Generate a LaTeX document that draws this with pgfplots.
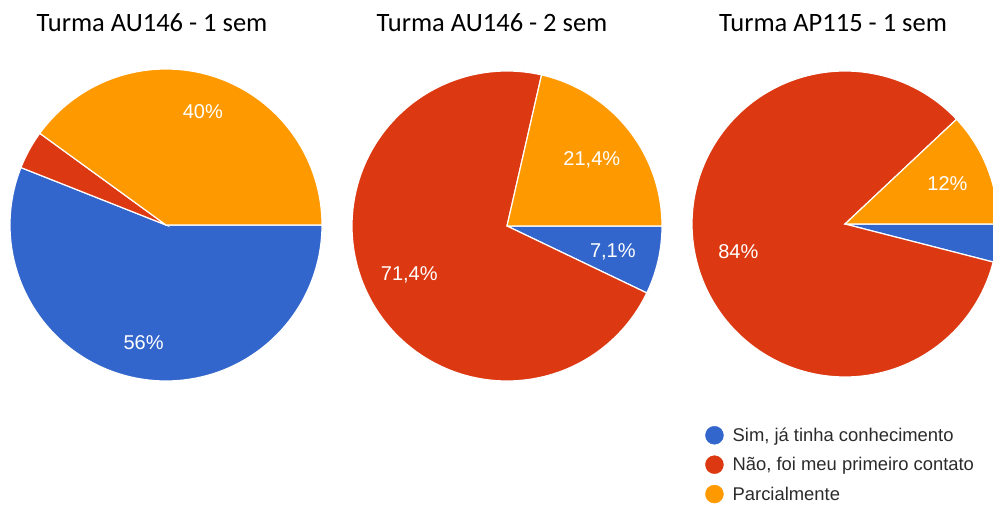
\documentclass[border=0pt]{standalone}
\usepackage{pgfplots}
\pgfplotsset{compat=1.18}
\usepackage{fontspec}
\setmainfont{Carlito}
\newfontfamily\arialfont{Liberation Sans}

\definecolor{gblue}{HTML}{3366CC}
\definecolor{gred}{HTML}{DC3912}
\definecolor{gorange}{HTML}{FF9900}
\definecolor{legendtext}{HTML}{2B2B2B}

\pgfkeys{/pgf/number format/assume math mode=true}

\pgfplotsset{
  canvas/.style={x=1pt, y=1pt, xmin=0, xmax=993, ymin=0, ymax=504,
    hide axis, at={(0pt,0pt)}, anchor=origin},
  slice/.style={draw=white, line width=1.2pt, samples=150, variable=\t},
}
\tikzset{
  pielabel/.style={font=\arialfont\fontsize{20}{24}\selectfont, text=white,
    inner sep=0pt, text height=14pt, text depth=0pt, anchor=center},
  pietitle/.style={font=\fontsize{26.5}{30}\selectfont, anchor=base, inner sep=0pt},
}

% value label inside a slice; small slices (< 5%) stay unlabelled
% #1 cx, #2 cy, #3 distance from centre, #4 angle, #5 value
\newcommand\pielabel[5]{%
  \ifdim #5pt<5pt\relax\else
    \pgfmathsetmacro\lblx{#1+(#3)*cos(#4)}%
    \pgfmathsetmacro\lbly{#2+(#3)*sin(#4)}%
    \edef\next{\noexpand\node[pielabel] at (axis cs:\lblx,\lbly)
      {\noexpand\pgfmathprintnumber[use comma]{#5}\noexpand\%};}%
    \next
  \fi
}

% pie drawn clockwise from 3 o'clock: Sim, Nao, Parcialmente
% #1 cx, #2 cy, #3 radius, #4 label distance (fraction of radius),
% #5 sim, #6 nao, #7 parcialmente
\newcommand\drawpie[7]{%
  \pgfmathsetmacro\pieTot{#5+#6+#7}%
  \pgfmathsetmacro\angA{-360*((#5)/\pieTot)}%
  \pgfmathsetmacro\angB{-360*((#5+#6)/\pieTot)}%
  \addplot[slice, fill=gblue, domain=\angA:0]
    ({#1+#3*cos(\t)},{#2+#3*sin(\t)}) -- (axis cs:#1,#2) -- cycle;
  \addplot[slice, fill=gred, domain=\angB:\angA]
    ({#1+#3*cos(\t)},{#2+#3*sin(\t)}) -- (axis cs:#1,#2) -- cycle;
  \addplot[slice, fill=gorange, domain=-360:\angB]
    ({#1+#3*cos(\t)},{#2+#3*sin(\t)}) -- (axis cs:#1,#2) -- cycle;
  \pielabel{#1}{#2}{#3*#4}{\angA/2}{#5}%
  \pielabel{#1}{#2}{#3*#4}{(\angA+\angB)/2}{#6}%
  \pielabel{#1}{#2}{#3*#4}{(\angB-360)/2}{#7}%
}

\begin{document}
\begin{tikzpicture}
\path[use as bounding box, clip] (0pt,0pt) rectangle (993pt,504pt);

% Turma AU146 - 1 sem
\begin{axis}[canvas]
  \drawpie{166}{279}{156}{0.765}{56}{4}{40}
  \node[pietitle] at (axis cs:152,472) {Turma AU146 - 1 sem};
\end{axis}

% Turma AU146 - 2 sem
\begin{axis}[canvas]
  \drawpie{507}{278}{155}{0.70}{7.1}{71.4}{21.4}
  \node[pietitle] at (axis cs:492,472) {Turma AU146 - 2 sem};
\end{axis}

% Turma AP115 - 1 sem
\begin{axis}[canvas]
  \drawpie{845}{280}{153}{0.72}{4}{84}{12}
  \node[pietitle] at (axis cs:833,472) {Turma AP115 - 1 sem};
\end{axis}

% shared legend
\begin{axis}[canvas,
  legend style={at={(axis description cs:0.7100,0.1550)}, anchor=north west,
    draw=none, fill=none, inner sep=0pt, row sep=11pt, column sep=9pt,
    font=\arialfont\fontsize{18.4}{21}\selectfont, text=legendtext,
    nodes={inner sep=0pt, text height=13pt, text depth=1.5pt}},
  legend cell align=left,
  legend image code/.code={\fill[#1] (9pt,0.25pt) circle[radius=9pt];},
]
  \addlegendimage{gblue}
  \addlegendentry{Sim, já tinha conhecimento}
  \addlegendimage{gred}
  \addlegendentry{Não, foi meu primeiro contato}
  \addlegendimage{gorange}
  \addlegendentry{Parcialmente}
\end{axis}
\end{tikzpicture}
\end{document}
